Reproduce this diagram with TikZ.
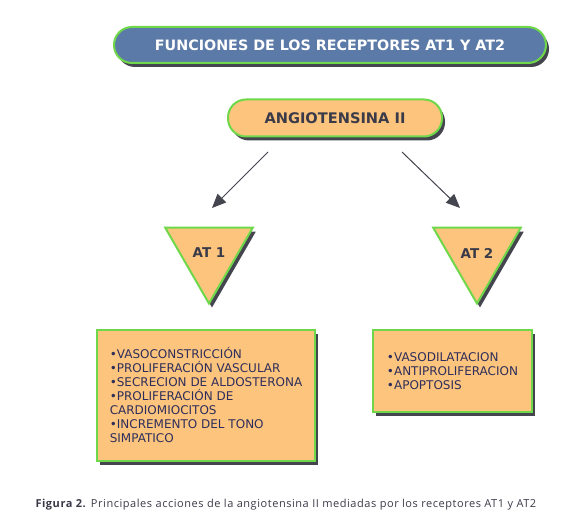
\documentclass[tikz,border=0pt]{standalone}
\usepackage{fontspec}
\setmainfont{DejaVu Sans}
\newfontfamily\capfont{Open Sans}[LetterSpace=5]
\usetikzlibrary{arrows.meta,shapes.geometric,shadows}

\definecolor{pillblue}{HTML}{5B7AA7}
\definecolor{boxorange}{HTML}{FDC47E}
\definecolor{rimgreen}{HTML}{6FD84A}
\definecolor{shadegray}{HTML}{45454F}
\definecolor{headtext}{HTML}{3A3A48}
\definecolor{listtext}{HTML}{2E2E5A}

\begin{document}
\begin{tikzpicture}[
    x = 1pt, y = -1pt, %
    > = {Triangle[length=14pt,width=12pt]}, %
    line width = 1pt %
    ]

    \tikzset{
    rim/.style = {draw = rimgreen, line width = 2pt, %
        drop shadow = {shadow xshift=3pt, shadow yshift=-4pt, fill=shadegray, opacity=1}},
    pill/.style = {rim, rounded corners = 18pt, inner sep = 0pt},
    cone/.style = {rim, fill = boxorange, regular polygon, regular polygon sides = 3,
        shape border rotate = 180, minimum size = 101pt, inner sep = 0pt,
        font = \bfseries\fontsize{13.5}{15}\selectfont, text = headtext},
    listbox/.style = {rim, fill = boxorange, rectangle, align = left, inner sep = 0pt,
        font = \fontsize{12}{14}\selectfont, text = listtext}
    }

    \useasboundingbox (0,0) rectangle (581,529);

    \node[pill, fill = pillblue, minimum width = 432pt, minimum height = 36pt,
        text = white, font = \bfseries\fontsize{14.3}{16}\selectfont]
        (title) at (330,45) {FUNCIONES DE LOS RECEPTORES AT1 Y AT2};

    \node[pill, fill = boxorange, minimum width = 214pt, minimum height = 37pt,
        text = headtext, font = \bfseries\fontsize{14.6}{16}\selectfont]
        (angio) at (335,118) {ANGIOTENSINA II};

    \node[cone] (at1) at (209,253) {AT 1};
    \node[cone] (at2) at (477,253) {AT 2};

    \node[listbox, minimum width = 218pt, minimum height = 131pt] (list1) at (206,395.5)
        {•VASOCONSTRICCIÓN\\
         •PROLIFERACIÓN VASCULAR\\
         •SECRECION DE ALDOSTERONA\\
         •PROLIFERACIÓN DE\\
         CARDIOMIOCITOS\\
         •INCREMENTO DEL TONO\\
         SIMPATICO};

    \node[listbox, minimum width = 159pt, minimum height = 82pt] (list2) at (452.5,371)
        {•VASODILATACION\\
         •ANTIPROLIFERACION\\
         •APOPTOSIS};

    \coordinate (from1) at (268,152);
    \coordinate (to1)   at (212,208);
    \coordinate (from2) at (402,152);
    \coordinate (to2)   at (460,208);

    \draw[->, draw = shadegray, fill = shadegray] (from1) -- (to1);
    \draw[->, draw = shadegray, fill = shadegray] (from2) -- (to2);

    \node[anchor = base west, text = headtext, inner sep = 0pt,
        font = \capfont\fontsize{11}{13}\selectfont] (caption) at (35,507)
        {\textbf{Figura 2.} Principales acciones de la angiotensina II mediadas por los receptores AT1 y AT2};

\end{tikzpicture}
\end{document}
